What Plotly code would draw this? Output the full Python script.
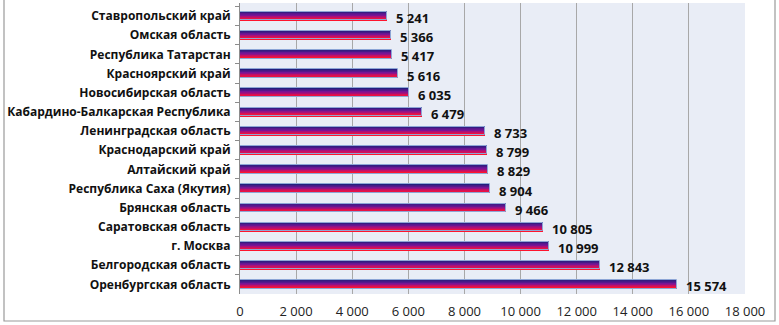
import plotly.graph_objects as go

# Regions, listed top to bottom
regions = [
    "Ставропольский край",
    "Омская область",
    "Республика Татарстан",
    "Красноярский край",
    "Новосибирская область",
    "Кабардино-Балкарская Республика",
    "Ленинградская область",
    "Краснодарский край",
    "Алтайский край",
    "Республика Саха (Якутия)",
    "Брянская область",
    "Саратовская область",
    "г. Москва",
    "Белгородская область",
    "Оренбургская область",
]
values = [5241, 5366, 5417, 5616, 6035, 6479, 8733, 8799, 8829, 8904,
          9466, 10805, 10999, 12843, 15574]

x_ticks = list(range(0, 18001, 2000))

BAR_H = 0.44
N_STRIPES = 12

# blue -> purple -> red vertical gradient stops
stops = [(0.0, (35, 30, 125)), (0.45, (120, 20, 150)), (0.75, (200, 15, 100)), (1.0, (255, 20, 45))]


def grad(t):
    for (t0, c0), (t1, c1) in zip(stops[:-1], stops[1:]):
        if t <= t1:
            f = (t - t0) / (t1 - t0)
            return "rgb(%d,%d,%d)" % tuple(round(a + (b - a) * f) for a, b in zip(c0, c1))
    return "rgb(%d,%d,%d)" % stops[-1][1]


fig = go.Figure()
stripe_w = BAR_H / N_STRIPES
for i in range(N_STRIPES):
    fig.add_trace(go.Bar(
        y=regions, x=values, orientation="h",
        width=stripe_w * 1.02, offset=-BAR_H / 2 + i * stripe_w,
        marker=dict(color=grad(i / (N_STRIPES - 1)), line=dict(width=0)),
        hoverinfo="skip", showlegend=False,
    ))

# thin light outline around each bar
fig.add_trace(go.Bar(
    y=regions, x=values, orientation="h", width=BAR_H, offset=-BAR_H / 2,
    marker=dict(color="rgba(0,0,0,0)", line=dict(color="#8ea6d6", width=1)),
    showlegend=False,
))

for r, v in zip(regions, values):
    fig.add_annotation(
        x=v, y=r, text="{:,}".format(v).replace(",", " "),
        xanchor="left", yanchor="middle", xshift=7, yshift=-2, showarrow=False,
        font=dict(family="Open Sans", size=13, color="#111111", weight="bold"),
    )

# outer chart frame
L, R, T, B = 240, 745, 3, 294
def px_x(p):
    return (p - L) / (R - L)
def px_y(p):
    return (B - p) / (B - T)

fig.add_shape(type="rect", xref="paper", yref="paper",
              x0=px_x(4), x1=px_x(775), y0=px_y(321), y1=px_y(-2),
              line=dict(color="#9a9a9a", width=1.2), fillcolor="rgba(0,0,0,0)", layer="above")

fig.update_layout(
    width=779, height=325,
    margin=dict(l=L, r=779 - R, t=T, b=325 - B),
    paper_bgcolor="white", plot_bgcolor="#e9edf6",
    barmode="overlay", bargap=0,
    separators=", ",
    font=dict(family="Open Sans", size=12, color="#222222"),
    xaxis=dict(
        range=[0, 18000], tickvals=x_ticks, tickformat=",d",
        showgrid=True, gridcolor="#a8a8a8", gridwidth=1,
        zeroline=False, showline=False, ticks="",
        tickfont=dict(family="Open Sans", size=13, color="#222222"),
        ticklabelstandoff=8,
        fixedrange=True,
    ),
    yaxis=dict(
        categoryorder="array", categoryarray=regions, autorange="reversed",
        showgrid=False, showline=True, linecolor="#8c8c8c", linewidth=1,
        ticks="outside", tickson="boundaries", ticklen=4, tickcolor="#8c8c8c",
        tickfont=dict(family="Open Sans", size=12, color="#111111", weight="bold"),
        ticklabelstandoff=6,
        fixedrange=True,
    ),
)

fig.write_html("out.html")
